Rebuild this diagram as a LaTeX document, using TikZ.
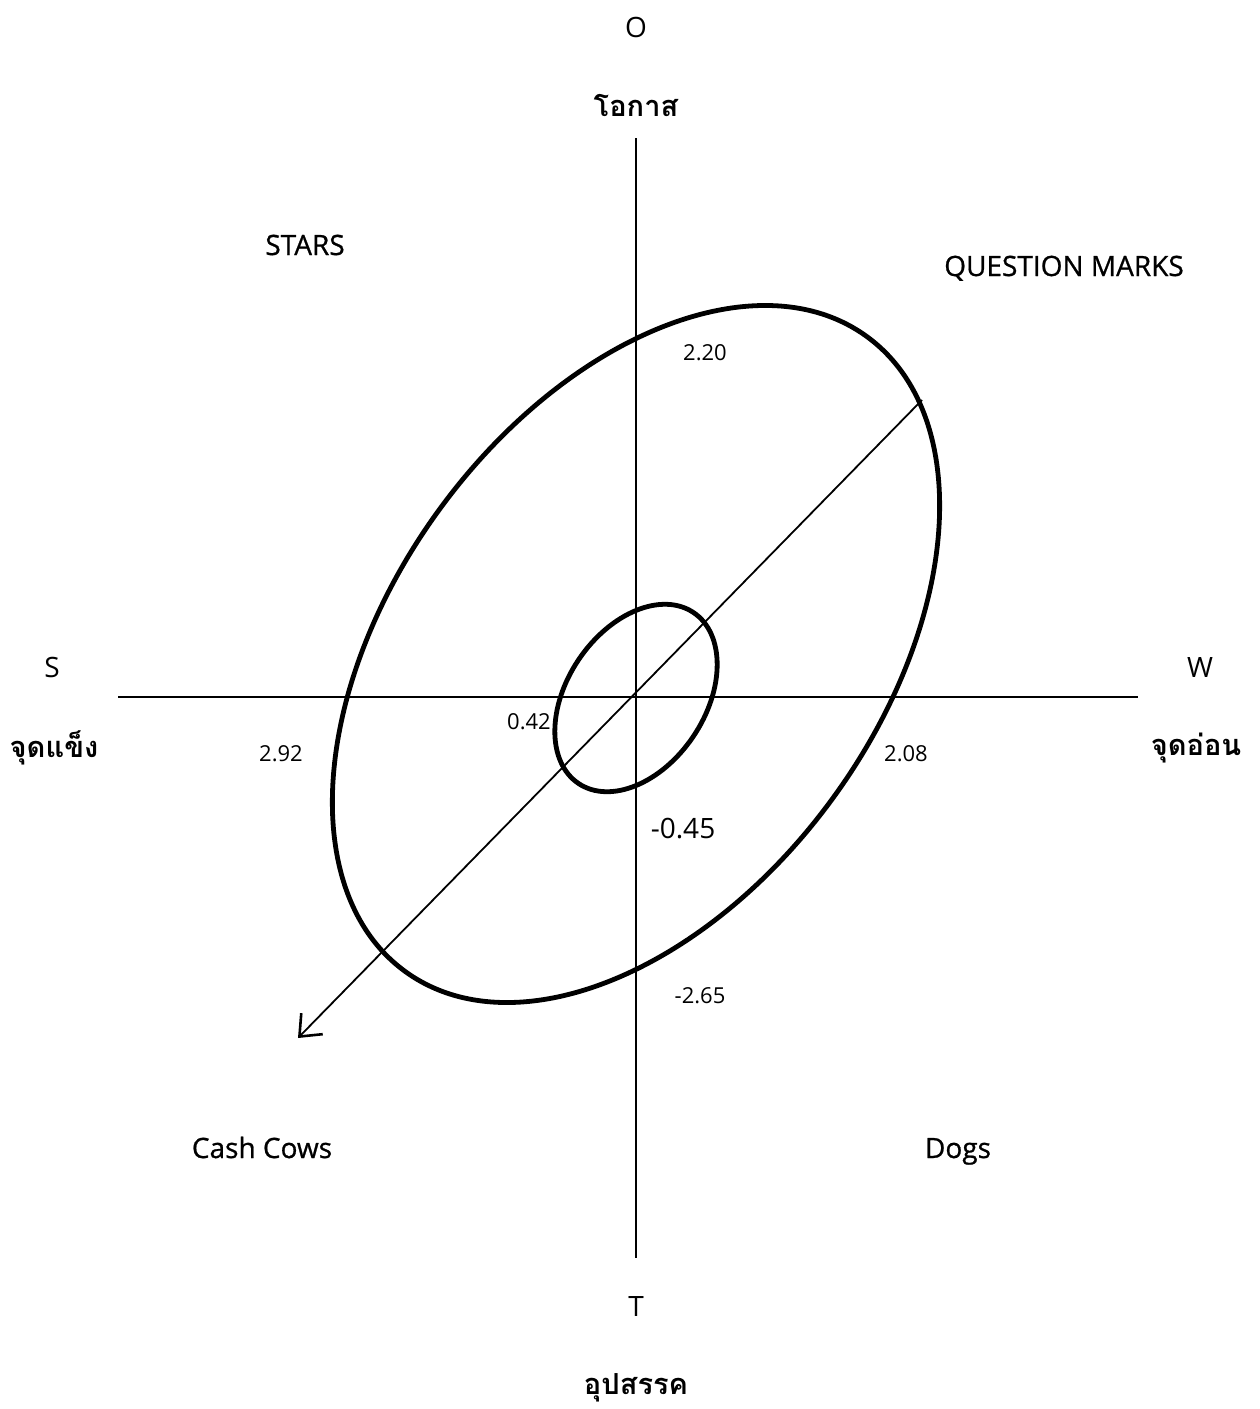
\documentclass[tikz,border=0pt]{standalone}
\usepackage{fontspec}
\setmainfont{Open Sans}
\newfontfamily\medfont[FakeBold=0.8]{Open Sans}
\newfontfamily\thaifont[Script=Thai]{Loma}
\usetikzlibrary{arrows.meta}
\begin{document}
\begin{tikzpicture}[x=1pt,y=1pt,
  axis/.style={line width=1.8pt},
  ring/.style={line width=4.8pt},
  lbl/.style={inner sep=0pt,font=\fontsize{28}{32}\selectfont},
  qlbl/.style={inner sep=0pt,font=\medfont\fontsize{28}{32}\selectfont},
  thlbl/.style={inner sep=0pt,font=\thaifont\bfseries\fontsize{29}{34}\selectfont},
  num/.style={inner sep=0pt,font=\fontsize{22}{26}\selectfont},
  bignum/.style={inner sep=0pt,font=\fontsize{28}{32}\selectfont}]
\useasboundingbox (0,0) rectangle (1259,-1409);
% axes
\coordinate (otop) at (636,-138);
\coordinate (obot) at (636,-1258);
\coordinate (sleft) at (118,-697);
\coordinate (wright) at (1138,-697);
\draw[axis] (otop) -- (obot);
\draw[axis] (sleft) -- (wright);
% ellipses
\draw[ring] (636,-654) ellipse[x radius=392.5, y radius=244, rotate=54];
\draw[ring] (636,-698) ellipse[x radius=103, y radius=69, rotate=56];
% diagonal arrow
\coordinate (dstart) at (922,-400);
\coordinate (dend) at (298,-1038);
\draw[line width=1.8pt,-{Straight Barb[length=18pt,width=30pt,line width=2.6pt]}] (dstart) -- (dend);
% labels
\node[lbl,anchor=base] (O) at (636,-37) {O};
\node[thlbl] (opp) at (636,-105) {โอกาส};
\node[lbl,anchor=base] (S) at (52,-677) {S};
\node[thlbl] (str) at (54,-748) {จุดแข็ง};
\node[lbl,anchor=base] (W) at (1200,-677) {W};
\node[thlbl] (weak) at (1196,-748) {จุดอ่อน};
\node[lbl,anchor=base] (T) at (636,-1316) {T};
\node[thlbl] (thr) at (636,-1388) {อุปสรรค};
\node[qlbl,anchor=base] (stars) at (305,-255) {STARS};
\node[qlbl,anchor=base] (qm) at (1064,-276) {QUESTION MARKS};
\node[qlbl,anchor=base] (cc) at (262,-1158) {Cash Cows};
\node[qlbl,anchor=base] (dogs) at (958,-1158) {Dogs};
\node[num,anchor=base] (n220) at (705,-360) {2.20};
\node[num,anchor=base] (n292) at (281,-761) {2.92};
\node[num,anchor=base] (n042) at (529,-729) {0.42};
\node[num,anchor=base] (n208) at (906,-761) {2.08};
\node[num,anchor=base] (n265) at (700,-1003) {-2.65};
\node[bignum,anchor=base] (n045) at (683,-838) {-0.45};
\end{tikzpicture}
\end{document}
